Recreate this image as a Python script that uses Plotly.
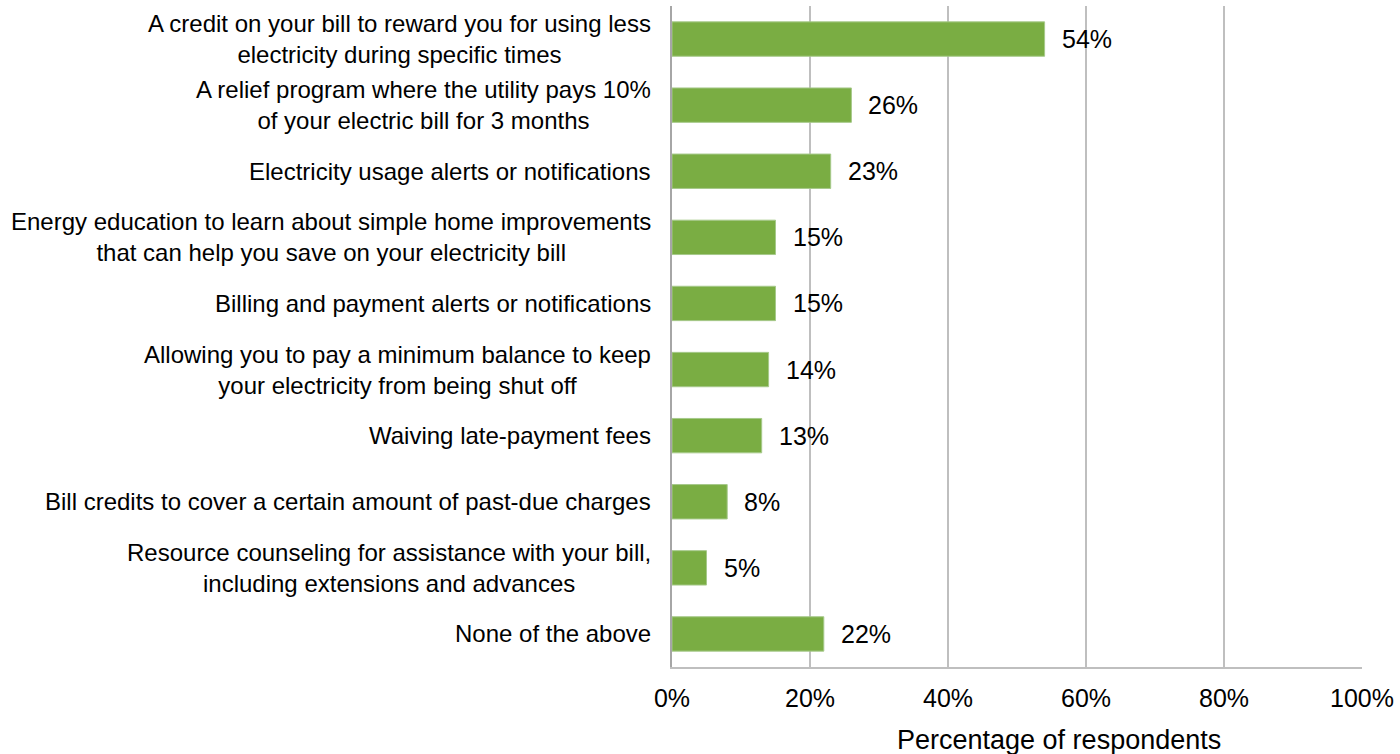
import plotly.graph_objects as go

categories = [
    "A credit on your bill to reward you for using less<br>electricity during specific times",
    "A relief program where the utility pays 10%<br>of your electric bill for 3 months",
    "Electricity usage alerts or notifications",
    "Energy education to learn about simple home improvements<br>that can help you save on your electricity bill",
    "Billing and payment alerts or notifications",
    "Allowing you to pay a minimum balance to keep<br>your electricity from being shut off",
    "Waiving late-payment fees",
    "Bill credits to cover a certain amount of past-due charges",
    "Resource counseling for assistance with your bill,<br>including extensions and advances",
    "None of the above",
]
values = [54, 26, 23, 15, 15, 14, 13, 8, 5, 22]
x_ticks = [0, 20, 40, 60, 80, 100]
x_tick_labels = ["0%", "20%", "40%", "60%", "80%", "100%"]
x_title = "Percentage of respondents"

FONT = "Liberation Sans, Arial, sans-serif"
GREEN = "#7AAD43"
GRID = "#BFBFBF"

fig = go.Figure(
    go.Bar(
        x=values,
        y=categories,
        orientation="h",
        width=0.52,
        marker=dict(color=GREEN, line=dict(color="#A6C98A", width=1)),
        hoverinfo="skip",
    )
)

annotations = []
# category labels, centred lines, right-aligned block
for cat in categories:
    annotations.append(dict(
        x=0, xref="paper", y=cat, yref="y",
        text=cat, showarrow=False, xanchor="right", yanchor="middle",
        align="center", xshift=-19,
        font=dict(family=FONT, size=24, color="#000000"),
    ))
# value labels to the right of each bar
for cat, v in zip(categories, values):
    annotations.append(dict(
        x=v, xref="x", y=cat, yref="y",
        text=f"{v}%", showarrow=False, xanchor="left", yanchor="middle",
        xshift=15,
        font=dict(family=FONT, size=25, color="#000000"),
    ))
# x-axis title, set slightly right of the plot centre
annotations.append(dict(
    x=0.561, xref="paper", y=0, yref="paper",
    text=x_title, showarrow=False, xanchor="center", yanchor="top",
    yshift=-56,
    font=dict(family=FONT, size=27, color="#000000"),
))

fig.update_layout(
    width=1400, height=754,
    margin=dict(l=672, r=35, t=6, b=87),
    plot_bgcolor="white", paper_bgcolor="white",
    showlegend=False,
    annotations=annotations,
    font=dict(family=FONT, color="#000000"),
    xaxis=dict(
        range=[0, 100],
        tickvals=x_ticks, ticktext=x_tick_labels,
        tickfont=dict(family=FONT, size=25, color="#000000"),
        ticklabelstandoff=8,
        showgrid=True, gridcolor=GRID, gridwidth=1.5,
        showline=True, linecolor=GRID, linewidth=1.5,
        zeroline=False, ticks="", ticklen=0,
        fixedrange=True,
    ),
    yaxis=dict(
        categoryorder="array", categoryarray=categories,
        autorange="reversed",
        showticklabels=False, ticks="",
        showgrid=False, zeroline=False,
        showline=True, linecolor="#A6A6A6", linewidth=1.5,
        fixedrange=True,
    ),
)

fig.write_html("out.html")
